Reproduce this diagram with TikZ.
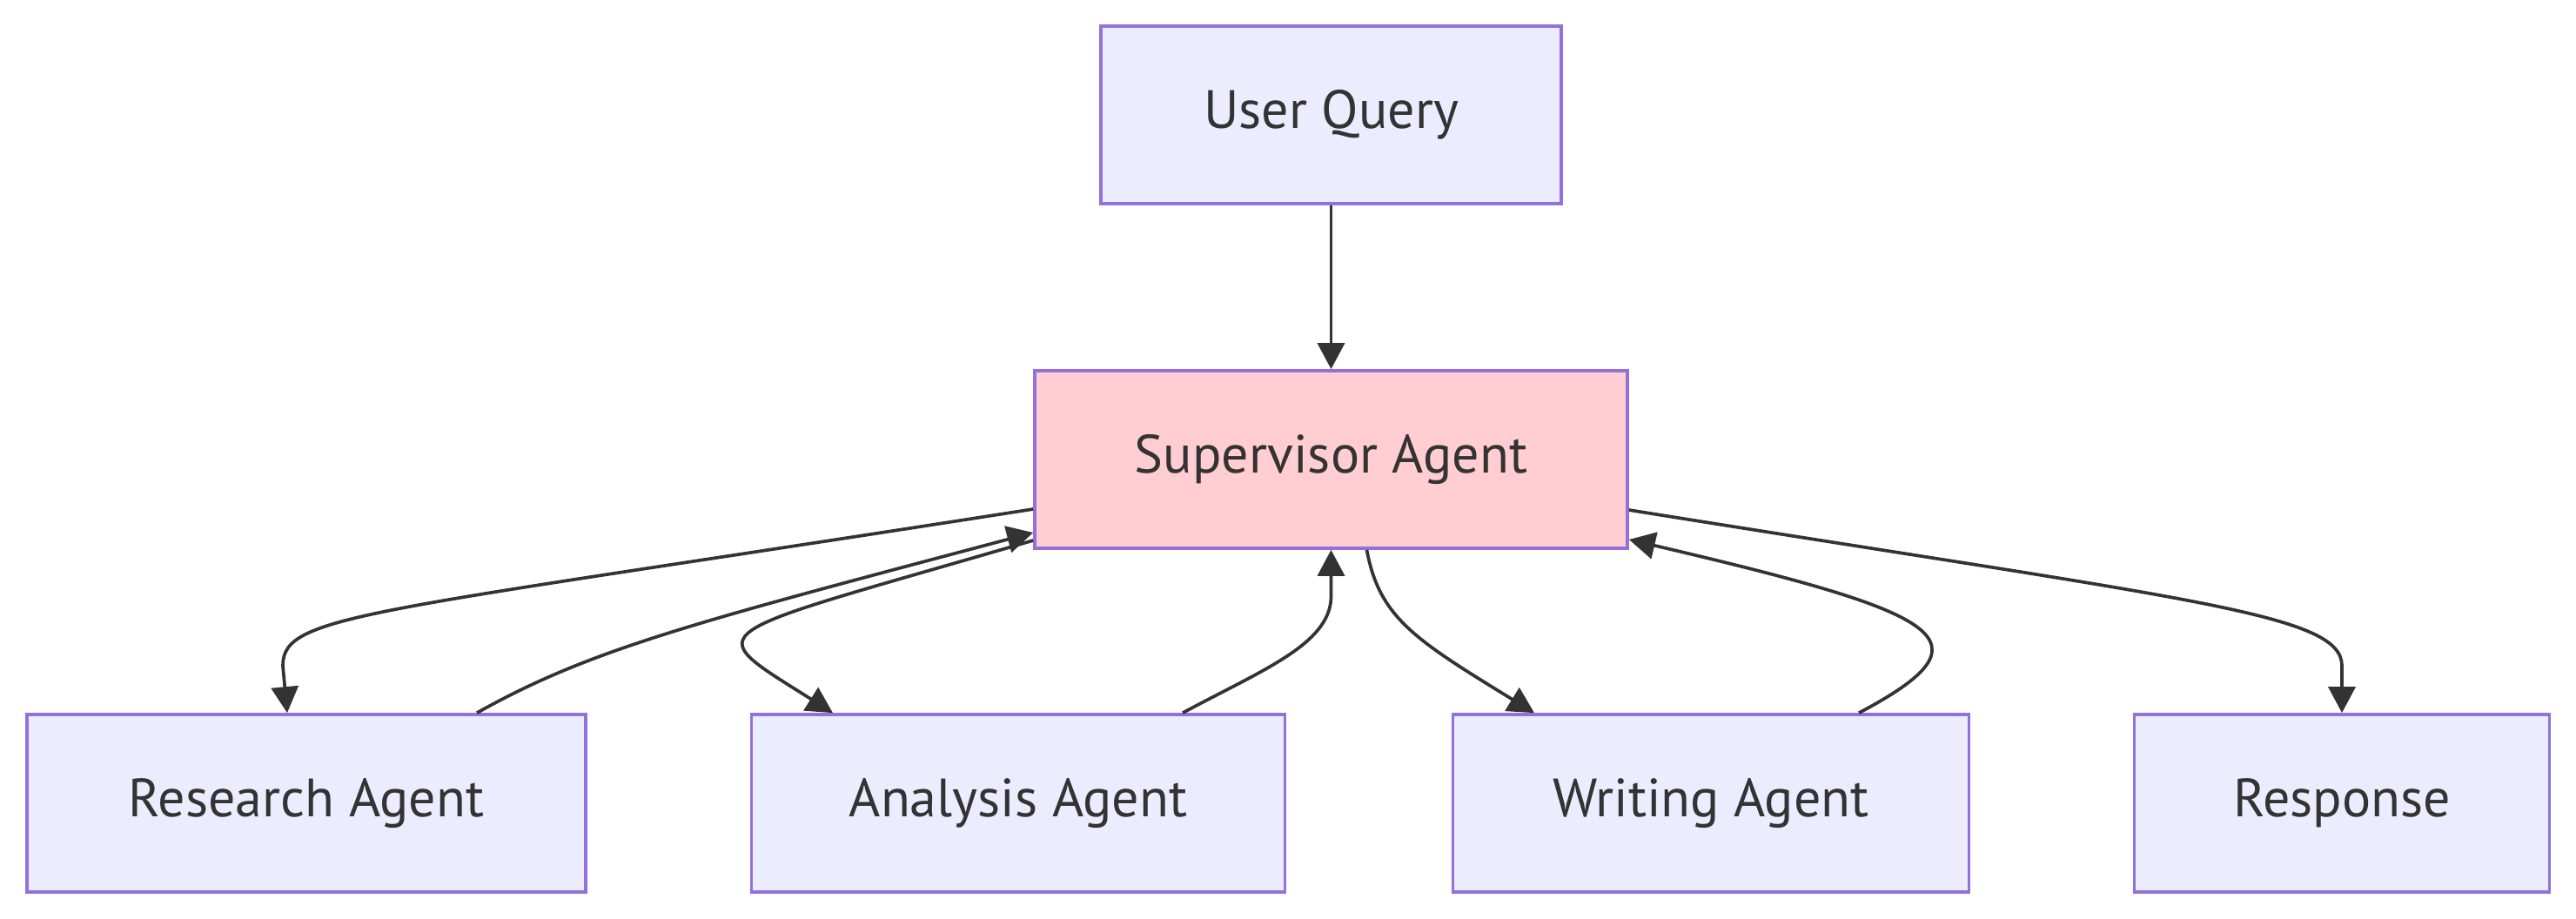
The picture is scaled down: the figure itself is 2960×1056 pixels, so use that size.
\documentclass[tikz,border=0pt]{standalone}
\usepackage{fontspec}
\setmainfont{PT Sans}
\usetikzlibrary{arrows.meta}
\definecolor{boxfill}{HTML}{ECECFF}
\definecolor{boxline}{HTML}{9370DB}
\definecolor{supfill}{HTML}{FFCDD2}
\definecolor{ink}{HTML}{333333}
\begin{document}
\begin{tikzpicture}[x=1pt,y=-1pt,
  box/.style={draw=boxline, fill=boxfill, line width=3.7pt, inner sep=0pt, text=ink,
              minimum height=204pt, font=\fontsize{62}{68}\selectfont},
  edge/.style={draw=ink, line width=3.7pt, -{Triangle[length=30pt,width=31pt]}}]
\useasboundingbox (0,0) rectangle (2960,1056);
\node[box, minimum width=529pt] (uq) at (1529.5,132) {User Query};
\node[box, fill=supfill, minimum width=681pt] (sup) at (1529.5,528) {Supervisor Agent};
\node[box, minimum width=642pt] (res) at (352,923) {Research Agent};
\node[box, minimum width=613pt] (ana) at (1170,923) {Analysis Agent};
\node[box, minimum width=593pt] (wri) at (1966,923) {Writing Agent};
\node[box, minimum width=477pt] (resp) at (2691,923) {Response};

\draw[edge] (uq.south) -- (sup.north);
\draw[edge] ([yshift=-57pt]sup.west) .. controls (420,705) and (325,705) .. (325,765) -- ([xshift=-22pt]res.north);
\draw[edge] ([xshift=196pt]res.north) .. controls (680,745) and (800,715) .. ([yshift=-84pt]sup.west);
\draw[edge] ([yshift=-93pt]sup.west) .. controls (800,734) and (800,720) .. ([xshift=-213pt]ana.north);
\draw[edge] ([xshift=189pt]ana.north) .. controls (1450,770) and (1529.5,740) .. (1529.5,685) -- (sup.south);
\draw[edge] ([xshift=41pt]sup.south) .. controls (1585,710) and (1626,735) .. ([xshift=-203pt]wri.north);
\draw[edge] ([xshift=170pt]wri.north) .. controls (2295,735) and (2235,705) .. ([yshift=-92pt]sup.east);
\draw[edge] ([yshift=-58pt]sup.east) .. controls (2520,690) and (2691,705) .. (2691,765) -- (resp.north);
\end{tikzpicture}
\end{document}
